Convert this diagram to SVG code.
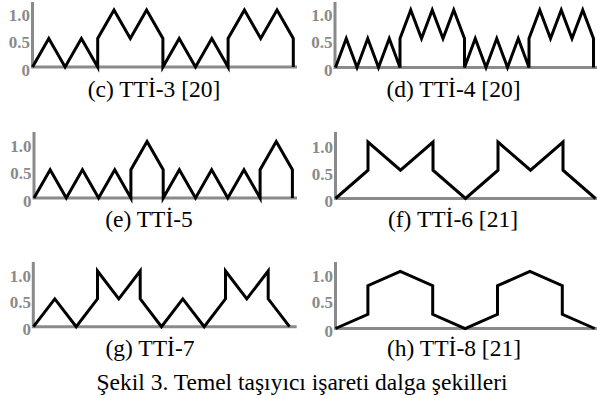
<svg xmlns="http://www.w3.org/2000/svg" width="597" height="398" viewBox="0 0 597 398">
<style>
.ax{fill:none;stroke:#8a8a8a;stroke-width:3}
.w{fill:none;stroke:#000;stroke-width:3;stroke-linejoin:miter;stroke-linecap:butt}
.lb{font-family:"Liberation Serif","Times New Roman",serif;font-weight:bold;font-size:17px;fill:#8a8a8a;text-anchor:end}
.cap{font-family:"Liberation Serif","Times New Roman",serif;font-size:23.5px;fill:#000;text-anchor:middle}
</style>
<rect width="597" height="398" fill="#fff"/>
<g id="panel-c">
<path class="ax" d="M32.5,2 V68.5 M31,67 H297"/>
<text class="lb" x="30" y="20.5">1.0</text><text class="lb" x="30" y="47.5">0.5</text><text class="lb" x="30" y="75.5">0</text>
<path class="w" d="M32.5,67 L48.8,38.5 L65.1,67 L81.4,38.5 L97.7,67 L97.7,38.5 L114,10 L130.3,38.5 L146.6,10 L162.9,38.5 L162.9,67 L179.2,38.5 L195.5,67 L211.8,38.5 L228.1,67 L228.1,38.5 L244.4,10 L260.7,38.5 L277,10 L293.3,38.5 L293.3,67"/>
<text class="cap" x="154" y="97">(c) TTİ-3 [20]</text>
</g>
<g id="panel-d">
<path class="ax" d="M335,2 V68.5 M333.5,67.5 H597"/>
<text class="lb" x="332.5" y="20.5">1.0</text><text class="lb" x="332.5" y="47.5">0.5</text><text class="lb" x="332.5" y="75.5">0</text>
<path class="w" d="M335.5,67.5 L346.25,38.5 L357,67.5 L367.75,38.5 L378.5,67.5 L389.25,38.5 L400,67.5 L400,38.5 L410.75,10 L421.5,38.5 L432.25,10 L443,38.5 L453.75,10 L464.5,38.5 L464.5,67.5 L475.25,38.5 L486,67.5 L496.75,38.5 L507.5,67.5 L518.25,38.5 L529,67.5 L529,38.5 L539.75,10 L550.5,38.5 L561.25,10 L572,38.5 L582.75,10 L593.5,38.5 L593.5,67.5"/>
<text class="cap" x="453.5" y="97">(d) TTİ-4 [20]</text>
</g>
<g id="panel-e">
<path class="ax" d="M34,132 V199.5 M32.5,198 H297"/>
<text class="lb" x="31.5" y="152">1.0</text><text class="lb" x="31.5" y="179">0.5</text><text class="lb" x="31.5" y="206.5">0</text>
<path class="w" d="M34,198 L50.15,169.75 L66.3,198 L82.45,169.75 L98.6,198 L114.75,169.75 L130.9,198 L130.9,169.75 L147.05,141.5 L163.2,169.75 L163.2,198 L179.35,169.75 L195.5,198 L211.65,169.75 L227.8,198 L243.95,169.75 L260.1,198 L260.1,169.75 L276.25,141.5 L292.4,169.75 L292.4,198"/>
<text class="cap" x="149" y="227">(e) TTİ-5</text>
</g>
<g id="panel-f">
<path class="ax" d="M335.5,132 V200 M334,198.5 H597"/>
<text class="lb" x="333" y="152.5">1.0</text><text class="lb" x="333" y="179.5">0.5</text><text class="lb" x="333" y="207">0</text>
<path class="w" d="M335.5,198.5 L368,170.25 L368,142 L400.5,170.25 L433,142 L433,170.25 L465.5,198.5 L498,170.25 L498,142 L530.5,170.25 L563,142 L563,170.25 L595.5,198.5"/>
<text class="cap" x="453" y="227">(f) TTİ-6 [21]</text>
</g>
<g id="panel-g">
<path class="ax" d="M33.3,262 V328 M32,326.7 H296.7"/>
<text class="lb" x="31" y="281.5">1.0</text><text class="lb" x="31" y="308">0.5</text><text class="lb" x="31" y="335.2">0</text>
<path class="w" d="M33.5,326.7 L54.8,298.85 L76.2,326.7 L97.5,298.85 L97.5,271 L118.8,298.85 L140.2,271 L140.2,298.85 L161.5,326.7 L182.8,298.85 L204.2,326.7 L225.5,298.85 L225.5,271 L246.8,298.85 L268.2,271 L268.2,298.85 L289.5,326.7"/>
<text class="cap" x="150" y="356">(g) TTİ-7</text>
</g>
<g id="panel-h">
<path class="ax" d="M335.5,262 V330 M334,328.5 H597"/>
<text class="lb" x="333" y="282">1.0</text><text class="lb" x="333" y="308">0.5</text><text class="lb" x="333" y="337">0</text>
<path class="w" d="M335.5,328.5 L367.9,314.25 L367.9,285.75 L400.3,271.5 L432.7,285.75 L432.7,314.25 L465.1,328.5 L497.5,314.25 L497.5,285.75 L529.9,271.5 L562.3,285.75 L562.3,314.25 L594.7,328.5"/>
<text class="cap" x="454" y="356">(h) TTİ-8 [21]</text>
</g>
<text id="figure-caption" class="cap" x="302" y="390">Şekil 3. Temel taşıyıcı işareti dalga şekilleri</text>
</svg>
